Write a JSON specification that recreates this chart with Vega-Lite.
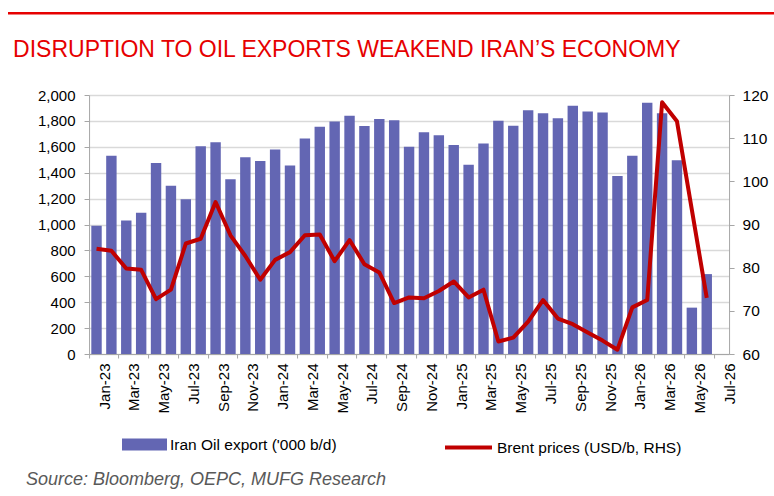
{
  "$schema": "https://vega.github.io/schema/vega-lite/v6.json",
  "padding": {"left": 8, "top": 6, "right": 0, "bottom": 0},
  "spacing": 19,
  "columns": 1,
  "center": true,
  "title": {
    "text": "Source: Bloomberg, OEPC, MUFG Research",
    "orient": "bottom",
    "anchor": "start",
    "frame": "bounds",
    "dx": 18,
    "offset": 15,
    "font": "Liberation Sans",
    "fontSize": 18,
    "fontStyle": "italic",
    "fontWeight": "normal",
    "color": "#595959"
  },
  "config": {
    "font": "Liberation Sans",
    "view": {"stroke": null},
    "axis": {
      "domainColor": "#a6a6a6",
      "tickColor": "#a6a6a6",
      "labelColor": "#000000",
      "labelFont": "Liberation Sans",
      "labelFontSize": 15,
      "title": null
    },
    "legend": {
      "labelFont": "Liberation Sans",
      "labelFontSize": 15.5,
      "labelColor": "#000000",
      "labelLimit": 400,
      "padding": 0,
      "title": null
    }
  },
  "concat": [
    {
      "data": {"values": [{}]},
      "width": 838,
      "height": 0.5,
      "view": {"stroke": "#e60000", "strokeWidth": 2},
      "mark": {"type": "text"},
      "encoding": {"text": {"value": ""}}
    },
    {
      "width": 640,
      "height": 259,
      "title": {
        "text": "DISRUPTION TO OIL EXPORTS WEAKEND IRAN\u2019S ECONOMY",
        "anchor": "start",
        "frame": "group",
        "dx": -76,
        "offset": 26,
        "font": "Liberation Sans",
        "fontSize": 23,
        "fontWeight": "normal",
        "color": "#e60000"
      },
      "data": {
        "values": [
          {"month": "Jan-23", "exports": 990, "brent": 84.4},
          {"month": "Feb-23", "exports": 1530, "brent": 83.9},
          {"month": "Mar-23", "exports": 1030, "brent": 79.8},
          {"month": "Apr-23", "exports": 1090, "brent": 79.5},
          {"month": "May-23", "exports": 1475, "brent": 72.7},
          {"month": "Jun-23", "exports": 1300, "brent": 74.9},
          {"month": "Jul-23", "exports": 1195, "brent": 85.6},
          {"month": "Aug-23", "exports": 1605, "brent": 86.7},
          {"month": "Sep-23", "exports": 1635, "brent": 95.2},
          {"month": "Oct-23", "exports": 1350, "brent": 87.5},
          {"month": "Nov-23", "exports": 1520, "brent": 82.7},
          {"month": "Dec-23", "exports": 1490, "brent": 77.2},
          {"month": "Jan-24", "exports": 1580, "brent": 81.8},
          {"month": "Feb-24", "exports": 1455, "brent": 83.6},
          {"month": "Mar-24", "exports": 1665, "brent": 87.5},
          {"month": "Apr-24", "exports": 1755, "brent": 87.7},
          {"month": "May-24", "exports": 1795, "brent": 81.5},
          {"month": "Jun-24", "exports": 1840, "brent": 86.4},
          {"month": "Jul-24", "exports": 1760, "brent": 80.8},
          {"month": "Aug-24", "exports": 1815, "brent": 78.9},
          {"month": "Sep-24", "exports": 1805, "brent": 71.8},
          {"month": "Oct-24", "exports": 1600, "brent": 73.1},
          {"month": "Nov-24", "exports": 1712, "brent": 72.9},
          {"month": "Dec-24", "exports": 1690, "brent": 74.6},
          {"month": "Jan-25", "exports": 1613, "brent": 76.8},
          {"month": "Feb-25", "exports": 1462, "brent": 73.1},
          {"month": "Mar-25", "exports": 1625, "brent": 74.9},
          {"month": "Apr-25", "exports": 1802, "brent": 62.9},
          {"month": "May-25", "exports": 1762, "brent": 63.8},
          {"month": "Jun-25", "exports": 1883, "brent": 67.5},
          {"month": "Jul-25", "exports": 1860, "brent": 72.5},
          {"month": "Aug-25", "exports": 1821, "brent": 68.2},
          {"month": "Sep-25", "exports": 1917, "brent": 66.9},
          {"month": "Oct-25", "exports": 1872, "brent": 65.0},
          {"month": "Nov-25", "exports": 1865, "brent": 63.1},
          {"month": "Dec-25", "exports": 1374, "brent": 61.0},
          {"month": "Jan-26", "exports": 1531, "brent": 70.8},
          {"month": "Feb-26", "exports": 1940, "brent": 72.5},
          {"month": "Mar-26", "exports": 1860, "brent": 118.3},
          {"month": "Apr-26", "exports": 1497, "brent": 113.9},
          {"month": "May-26", "exports": 358, "brent": 93.4},
          {"month": "Jun-26", "exports": 617, "brent": 73.0}
        ]
      },
      "encoding": {
        "x": {
          "field": "month",
          "type": "ordinal",
          "sort": null,
          "scale": {
            "domain": ["Jan-23","Feb-23","Mar-23","Apr-23","May-23","Jun-23","Jul-23","Aug-23","Sep-23","Oct-23","Nov-23","Dec-23",
                       "Jan-24","Feb-24","Mar-24","Apr-24","May-24","Jun-24","Jul-24","Aug-24","Sep-24","Oct-24","Nov-24","Dec-24",
                       "Jan-25","Feb-25","Mar-25","Apr-25","May-25","Jun-25","Jul-25","Aug-25","Sep-25","Oct-25","Nov-25","Dec-25",
                       "Jan-26","Feb-26","Mar-26","Apr-26","May-26","Jun-26","Jul-26"],
            "paddingInner": 0,
            "paddingOuter": 0
          },
          "axis": {
            "values": ["Jan-23","Mar-23","May-23","Jul-23","Sep-23","Nov-23","Jan-24","Mar-24","May-24","Jul-24","Sep-24","Nov-24",
                       "Jan-25","Mar-25","May-25","Jul-25","Sep-25","Nov-25","Jan-26","Mar-26","May-26","Jul-26"],
            "bandPosition": 0,
            "labelOffset": 8,
            "labelAngle": 270,
            "labelPadding": 5,
            "tickSize": 4,
            "grid": false
          }
        }
      },
      "layer": [
        {
          "mark": {"type": "bar", "width": {"band": 0.7}},
          "encoding": {
            "y": {
              "field": "exports",
              "type": "quantitative",
              "scale": {"domain": [0, 2000], "nice": false},
              "axis": {
                "values": [0, 200, 400, 600, 800, 1000, 1200, 1400, 1600, 1800, 2000],
                "format": ",d",
                "tickSize": 5,
                "labelPadding": 9,
                "grid": true,
                "gridColor": "#d9d9d9",
                "gridWidth": 1.5
              }
            },
            "color": {
              "datum": "Iran Oil export ('000 b/d)",
              "scale": {"range": ["#6366b3"]},
              "legend": {
                "orient": "none",
                "legendX": 113,
                "legendY": 409,
                "symbolType": "M-1,-0.27H1V0.27H-1Z",
                "symbolSize": 2025,
                "symbolStrokeWidth": 0,
                "labelOffset": 3
              }
            }
          }
        },
        {
          "mark": {"type": "line", "strokeWidth": 4, "strokeJoin": "round"},
          "encoding": {
            "y": {
              "field": "brent",
              "type": "quantitative",
              "scale": {"domain": [60, 120], "zero": false, "nice": false},
              "axis": {
                "orient": "right",
                "values": [60, 70, 80, 90, 100, 110, 120],
                "tickSize": 5,
                "labelPadding": 8,
                "labelFontSize": 15.5,
                "grid": false
              }
            },
            "stroke": {
              "datum": "Brent prices (USD/b, RHS)",
              "scale": {"range": ["#c00000"]},
              "legend": {
                "orient": "none",
                "legendX": 434,
                "legendY": 409,
                "symbolType": "M-1,0H1",
                "symbolSize": 2209,
                "symbolStrokeWidth": 4,
                "labelOffset": 3
              }
            }
          }
        }
      ],
      "resolve": {"scale": {"y": "independent"}}
    }
  ]
}
